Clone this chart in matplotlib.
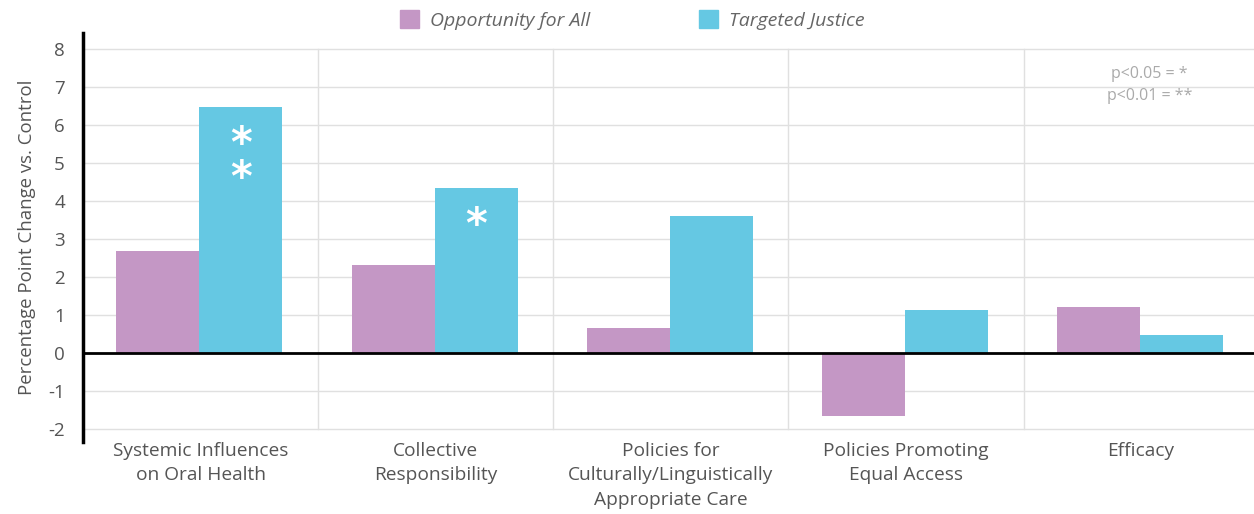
import matplotlib
matplotlib.use("Agg")
import matplotlib.pyplot as plt
import numpy as np
from matplotlib.patches import Patch

categories = ["Systemic Influences\non Oral Health", "Collective\nResponsibility",
              "Policies for\nCulturally/Linguistically\nAppropriate Care",
              "Policies Promoting\nEqual Access", "Efficacy"]
opportunity = [2.68, 2.32, 0.66, -1.66, 1.21]
targeted = [6.47, 4.34, 3.60, 1.13, 0.47]
targeted_sig = ["**", "*", "", "", ""]
yticks = list(range(-2, 9))
series_names = ["Opportunity for All", "Targeted Justice"]

C_PURPLE = "#c497c5"
C_BLUE = "#65c8e3"
TXT = "#555555"
FONT = "Open Sans"

plt.rcParams['font.family'] = [FONT, 'DejaVu Sans']

fig = plt.figure(figsize=(12.54, 5.14), dpi=100)
ax = fig.add_axes([83/1254, 72/514, 1 - 83/1254, (442-33)/514])

x = np.arange(len(categories))
w = 0.353
ax.bar(x - w/2 - 0.005, opportunity, width=w, color=C_PURPLE, zorder=3)
ax.bar(x + w/2 - 0.005, targeted, width=w, color=C_BLUE, zorder=3)

ax.set_xlim(-0.5, 4.48)
ax.set_ylim(-2.34, 8.42)

for yv in yticks:
    ax.plot([-0.5, 4.48], [yv, yv], color="#e0e0e0", lw=1.0, zorder=1)
for xv in np.arange(0.5, len(categories) - 0.5, 1.0):
    ax.plot([xv, xv], [-2, 8], color="#e0e0e0", lw=1.0, zorder=1)
ax.axhline(0, color="black", lw=2.0, zorder=4)

for xi, v, s in zip(x, targeted, targeted_sig):
    if s:
        ax.text(xi + w/2 - 0.005, v - 0.45, "\n".join(s), color="white",
                fontsize=30, ha="center", va="top", zorder=5, fontweight="bold",
                family="DejaVu Sans", linespacing=0.75)

for sp in ["top", "right", "bottom"]:
    ax.spines[sp].set_visible(False)
ax.spines["left"].set_linewidth(2.5)
ax.spines["left"].set_color("black")

ax.set_yticks(yticks)
ax.set_yticklabels([str(t) for t in yticks], fontsize=13.5, color=TXT)
ax.tick_params(axis="y", length=0, pad=13)
ax.set_xticks(x)
ax.set_xticklabels(categories, fontsize=13.8, color=TXT, linespacing=1.45)
ax.tick_params(axis="x", length=0, pad=0)
ax.set_ylabel("Percentage Point Change vs. Control", fontsize=13.4, color=TXT, labelpad=9)

ax.text(0.911, 0.92, "p<0.05 = *\np<0.01 = **", transform=ax.transAxes, fontsize=11.5,
        color="#aaaaaa", ha="center", va="top", linespacing=1.55)

# legend
handles = [Patch(color=C_PURPLE), Patch(color=C_BLUE)]
leg = fig.legend(handles, series_names, loc="center", bbox_to_anchor=(632/1254, 1 - 20/514),
                 ncol=2, frameon=False, handlelength=1.0, handleheight=1.0,
                 columnspacing=5.6, handletextpad=0.55,
                 prop={"family": FONT, "style": "italic", "size": 14})
for t in leg.get_texts():
    t.set_color("#666666")

fig.savefig("out.png", dpi=100)
